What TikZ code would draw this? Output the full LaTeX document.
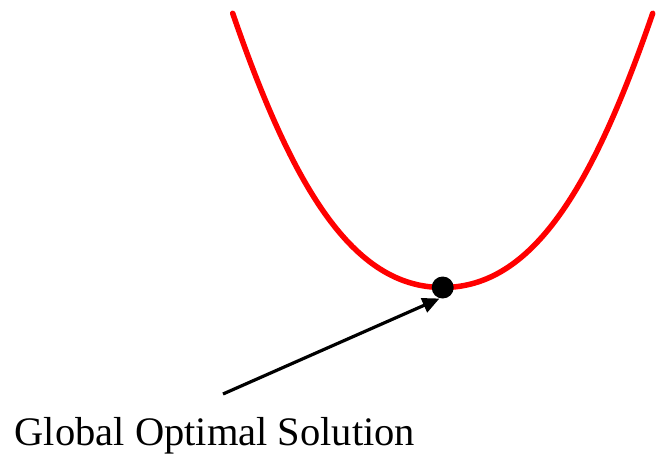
\documentclass[tikz,border=0pt]{standalone}
\usepackage{fontspec}
\setmainfont{Liberation Serif}
\usetikzlibrary{arrows.meta}
\tikzset{
  curve/.style={draw=red, line width=5.5pt, line cap=round},
  optdot/.style={circle, fill=black, inner sep=0pt, minimum size=22pt},
  pointer/.style={draw=black, line width=3.2pt, -{Triangle[length=17pt,width=15pt]}},
  label/.style={font=\fontsize{40.5}{44}\selectfont, inner sep=0pt, anchor=base west}
}
\begin{document}
\begin{tikzpicture}[x=1pt,y=-1pt]
\useasboundingbox (0,0) rectangle (656,453);
\coordinate (L) at (232.7,13.3);
\coordinate (R) at (652.7,13.3);
\coordinate (B) at (442.7,287.5);
\draw[curve] (L) .. controls (292.7,187.5) and (352.7,287.5) .. (B)
             .. controls (532.7,287.5) and (592.7,187.5) .. (R);
\node[optdot] (opt) at (B) {};
\node[label] (txt) at (14.5,445) {Global Optimal Solution};
\coordinate (start) at (223,394);
\draw[pointer] (start) -- (439.5,298.5);
\end{tikzpicture}
\end{document}
